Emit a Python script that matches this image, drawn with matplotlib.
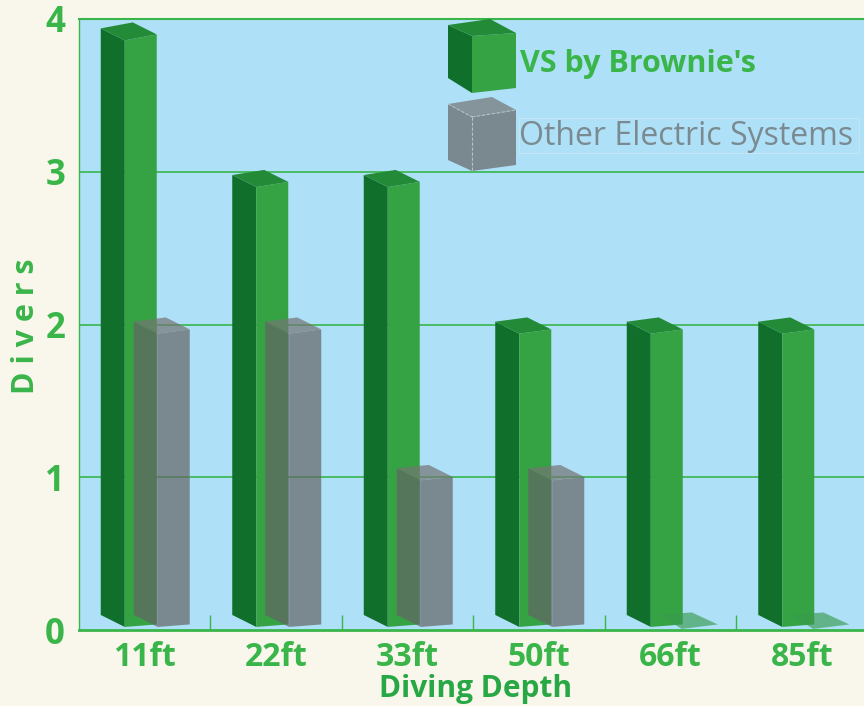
import matplotlib
matplotlib.use('Agg')
import matplotlib.pyplot as plt
from matplotlib.patches import Polygon, Rectangle
import numpy as np

# ---- data ----
categories = ['11ft', '22ft', '33ft', '50ft', '66ft', '85ft']
vs_brownies = [4, 3, 3, 2, 2, 2]
other_electric = [2, 2, 1, 1, 0, 0]
y_ticks = [0, 1, 2, 3, 4]
series_names = ["VS by Brownie's", "Other Electric Systems"]

# ---- style ----
BLUE = '#aee0f7'
CREAM = '#f9f7ec'
TXT = '#3ab54a'
XLAB = '#28a745'
G_SIDE = '#0f6f2b'
G_FRONT = '#35a343'
G_TOP = '#238b37'
GRAY = '#646464'
GRAY_TOP = '#747474'
GRAY_TXT = '#7a8a90'
FONT = ['Open Sans', 'DejaVu Sans']

plt.rcParams['font.family'] = FONT

W, H = 864, 706
fig = plt.figure(figsize=(W / 100, H / 100), dpi=100)
fig.patch.set_facecolor(CREAM)

left_px, right_px, top_px, bot_px = 79, 868, 19, 630
ax = fig.add_axes([left_px / W, (H - bot_px) / H, (right_px - left_px) / W, (bot_px - top_px) / H])
ax.set_facecolor(BLUE)
ax.set_xlim(0, len(categories))
ax.set_ylim(0, 4)

PX = len(categories) / (right_px - left_px)   # data x per pixel
PY = 4 / (bot_px - top_px)                    # data y per pixel


def draw_box(x0, v, side_c, front_c, top_c, alpha=1.0, zero_top=None, z=3):
    w = 32 * PX
    dx, dy = -24 * PX, 12 * PY
    yb = 0.02
    yt = yb + 0.96 * v
    sb = 2.5 * PY
    st = sb + 3.5 * PY * (yt / 3.86)
    side = [(x0, yb), (x0, yt), (x0 + dx, yt + dy), (x0 + dx, yb + dy)]
    front = [(x0, yb), (x0 + w, yb + sb), (x0 + w, yt + st), (x0, yt)]
    top = [(x0, yt), (x0 + w, yt + st), (x0 + w + dx, yt + st + dy), (x0 + dx, yt + dy)]
    if v > 0:
        ax.add_patch(Polygon(side, closed=True, fc=side_c, ec='none', alpha=alpha, zorder=z))
        ax.add_patch(Polygon(front, closed=True, fc=front_c, ec='none', alpha=alpha, zorder=z))
        ax.add_patch(Polygon(top, closed=True, fc=top_c, ec='none', alpha=alpha, zorder=z))
    else:
        flat = [(x0 - 2 * PX, yb - 2 * PY), (x0 + w + 2 * PX, yb + sb),
                (x0 + w + dx, yb + sb + dy), (x0 + dx, yb + dy)]
        ax.add_patch(Polygon(flat, closed=True, fc=zero_top, ec='none', alpha=0.65, zorder=z))


for i, (g, o) in enumerate(zip(vs_brownies, other_electric)):
    c = i + 0.5
    draw_box(c - 20 * PX, g, G_SIDE, G_FRONT, G_TOP, 1.0, z=3)
    draw_box(c + 13 * PX, o, GRAY, GRAY, GRAY_TOP, 0.7, zero_top='#3a9a50', z=4)

# grid
for yv in y_ticks[1:-1]:
    ax.axhline(yv, color=TXT, lw=1.2, zorder=1)

# spines
for s in ['left', 'top', 'bottom']:
    ax.spines[s].set_color(TXT)
ax.spines['left'].set_linewidth(1.0)
ax.spines['top'].set_linewidth(1.5)
ax.spines['bottom'].set_linewidth(2.0)
ax.spines['right'].set_visible(False)

# ticks
ax.set_xticks(np.arange(len(categories)) + 0.5)
ax.set_xticklabels(categories)
ax.set_xticks(np.arange(1, len(categories)), minor=True)
ax.tick_params(axis='x', which='major', length=0, pad=8, labelsize=23, labelcolor=TXT)
ax.tick_params(axis='x', which='minor', direction='in', length=11, width=1.0, color=TXT)
for t in ax.get_xticklabels():
    t.set_fontweight('bold')
ax.set_yticks(y_ticks)
ax.set_yticklabels([str(v) for v in y_ticks])
ax.tick_params(axis='y', length=0, pad=10, labelsize=25, labelcolor=TXT)
for t in ax.get_yticklabels():
    t.set_fontweight('bold')

ax.set_xlabel('Diving Depth', fontsize=21.5, color=XLAB, fontweight='bold', va='baseline')
ax.xaxis.set_label_coords((476 - left_px) / (right_px - left_px), (bot_px - 697) / (bot_px - top_px))
ax.set_ylabel('D i v e r s', fontsize=22, color=TXT, fontweight='bold', va='center', ha='center')
ax.yaxis.set_label_coords((26 - left_px) / (right_px - left_px), (bot_px - 326) / (bot_px - top_px))

# ---- legend overlay (pixel coordinates) ----
ov = fig.add_axes([0, 0, 1, 1], zorder=10)
ov.set_xlim(0, W)
ov.set_ylim(H, 0)
ov.axis('off')
ov.patch.set_alpha(0)

ov.add_patch(Polygon([(448, 25), (472, 36), (472, 93), (448, 78)], fc=G_SIDE, ec='none'))
ov.add_patch(Polygon([(472, 36), (516, 33), (516, 88), (472, 93)], fc=G_FRONT, ec='none'))
ov.add_patch(Polygon([(448, 25), (490, 19), (516, 33), (472, 36)], fc=G_TOP, ec='none'))

ov.add_patch(Polygon([(448, 104), (472, 117), (472, 171), (448, 160)], fc=GRAY, alpha=0.7, ec='none'))
ov.add_patch(Polygon([(472, 117), (516, 110), (516, 165), (472, 171)], fc=GRAY, alpha=0.7, ec='none'))
ov.add_patch(Polygon([(448, 104), (492, 97), (516, 110), (472, 117)], fc=GRAY_TOP, alpha=0.7, ec='none'))
for seg in [[(472, 117), (472, 171)], [(472, 117), (516, 110)], [(448, 104), (472, 117)]]:
    xs, ys = zip(*seg)
    ov.plot(xs, ys, color='#b4c2c6', lw=0.8, ls=(0, (3, 1.5)))

ov.text(520, 72, series_names[0], fontsize=22, color=TXT, fontweight='bold', va='baseline', ha='left')
ov.add_patch(Rectangle((519, 118), 340, 35, fc='none', ec='#c4e6f4', lw=0.8))
ov.text(519, 145, series_names[1], fontsize=23, color=GRAY_TXT, va='baseline', ha='left')

fig.savefig('out.png', dpi=100, facecolor=CREAM)
